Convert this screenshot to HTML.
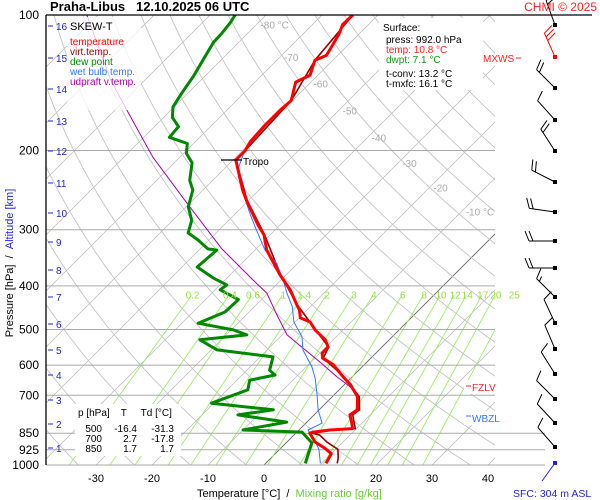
<!DOCTYPE html>
<html><head><meta charset="utf-8"><style>
html,body{margin:0;padding:0;background:#fff;}
svg{display:block;font-family:"Liberation Sans",sans-serif;}
</style></head><body>
<svg id="chart" width="600" height="500" viewBox="0 0 600 500">
<defs><clipPath id="plotclip"><rect x="46" y="15" width="449" height="450"/></clipPath></defs>
<rect x="0" y="0" width="600" height="500" fill="#ffffff"/>
<g id="grid" clip-path="url(#plotclip)"></g>
<g id="hlines"></g>
<g id="series" clip-path="url(#plotclip)"></g>
<g id="labels"></g>
<g id="barbs"></g>

<line x1="46" y1="15" x2="592" y2="15" stroke="#000" stroke-width="1.3"/>
<line x1="46" y1="15" x2="46" y2="465" stroke="#000" stroke-width="1.3"/>

<text x="50" y="11" font-size="13" font-weight="bold">Praha-Libus &#160;&#160;12.10.2025 06 UTC</text>
<text x="597" y="11" font-size="12" fill="#ff2020" text-anchor="end">CHMI © 2025</text>

<g>
<rect x="67" y="17" width="74" height="93" fill="#fff" fill-opacity="0.75"/>
<text x="70" y="30" font-size="11">SKEW-T</text>
<text x="70" y="45" font-size="10" fill="#ff0000">temperature</text>
<text x="70" y="55" font-size="10" fill="#990000">virt.temp.</text>
<text x="70" y="65" font-size="10" fill="#008800">dew point</text>
<text x="70" y="75" font-size="10" fill="#3377ff">wet bulb temp.</text>
<text x="70" y="85" font-size="10" fill="#aa00aa">udpraft v.temp.</text>
</g>

<g>
<rect x="379" y="18" width="104" height="72" fill="#fff"/>
<text x="383" y="31" font-size="10">Surface:</text>
<text x="386" y="43" font-size="10">press: 992.0 hPa</text>
<text x="386" y="53" font-size="10" fill="#ff2020">temp: 10.8 °C</text>
<text x="386" y="63" font-size="10" fill="#119911">dwpt: 7.1 °C</text>
<text x="386" y="77" font-size="10">t-conv: 13.2 °C</text>
<text x="386" y="87" font-size="10">t-mxfc: 16.1 °C</text>
</g>

<g>
<rect x="75" y="404" width="106" height="52" fill="#fff"/>
<text x="78" y="416" font-size="10">p [hPa] &#160;&#160;&#160;T &#160;&#160;&#160;&#160;Td [°C]</text>
<g font-size="10" text-anchor="end">
<text x="102" y="432">500</text><text x="137" y="432">-16.4</text><text x="174" y="432">-31.3</text>
<text x="102" y="442">700</text><text x="137" y="442">2.7</text><text x="174" y="442">-17.8</text>
<text x="102" y="452">850</text><text x="137" y="452">1.7</text><text x="174" y="452">1.7</text>
</g></g>

<g>
<line x1="221" y1="160" x2="242" y2="160" stroke="#000" stroke-width="1.2"/>
<text x="243" y="165" font-size="10">Tropo</text>
</g>
<g>
<text x="483" y="62" font-size="10" fill="#ff2020">MXWS</text>
<line x1="516" y1="58" x2="521" y2="58" stroke="#ff2020"/>
<rect x="464" y="380" width="44" height="14" fill="#fff"/>
<line x1="466" y1="386" x2="471" y2="386" stroke="#ff2020"/>
<text x="472" y="391" font-size="10" fill="#ff2020">FZLV</text>
<rect x="464" y="411" width="44" height="14" fill="#fff"/>
<line x1="466" y1="416" x2="471" y2="416" stroke="#3377ff"/>
<text x="472" y="422" font-size="10" fill="#3377ff">WBZL</text>
</g>

<text transform="translate(13,263) rotate(-90)" font-size="11" text-anchor="middle"><tspan fill="#000">Pressure [hPa] &#160;/ &#160;</tspan><tspan fill="#2222dd">Altitude [km]</tspan></text>
<text x="197" y="497" font-size="11"><tspan fill="#000">Temperature [°C] &#160;/ &#160;</tspan><tspan fill="#66cc33">Mixing ratio [g/kg]</tspan></text>
<text x="513" y="497" font-size="10.5" fill="#2222dd">SFC: 304 m ASL</text>
</svg>

<script>
// ---- data ----
const pressLevels=[100,200,300,400,500,600,700,850,925,1000];
const tempTicks=[-30,-20,-10,0,10,20,30,40];
const altKm=[16,15,14,13,12,11,10,9,8,7,6,5,4,3,2,1];
const altKmY=[26,58,89,121,151,183,213,242,270,297,324,350,375,400,424,448];
const mixRatios=[0.2,0.4,0.6,1,1.4,2,3,4,6,8,10,12,14,17,20,25];
const isoLabels=["-80 °C","-70","-60","-50","-40","-30","-20","-10 °C"];
const isoLabelT=[-80,-70,-60,-50,-40,-30,-20,-10];
const isoLabelP=[105,124,142,163,187,213,242,273];

const tempP=[100,105,110,117,123,126,136,141,155,163,176,191,200,210,221,245,258,278,293,308,333,378,408,441,453,471,481,501,527,547,564,579,599,637,663,705,754,774,807,830,836,845,850,889,918,944,992];
const tempT=[-64.5,-64.6,-63.6,-62.7,-62.0,-63.2,-61.4,-62.7,-60.2,-60.5,-60.5,-60.2,-59.5,-59.5,-57.3,-52.9,-50.4,-46.6,-43.9,-41.1,-37.9,-31.1,-26.6,-22.7,-21.3,-19.8,-17.3,-15.0,-11.4,-9.6,-9.6,-8.6,-5.5,-1.6,1.1,4.5,6.8,6.4,8.2,9.3,5.5,2.9,2.5,5.0,7.9,10.0,10.8];

const virtP=[100,126,155,200,210,258,308,378,441,501,547,579,637,705,754,774,830,836,850,858,889,923,965,992];
const virtT=[-64.5,-63.2,-60.2,-59.5,-59.5,-50.3,-41.0,-31.0,-22.6,-14.9,-9.5,-8.5,-1.4,4.8,7.2,6.9,9.8,6.1,3.0,4.6,7.1,10.4,12.0,12.8];

const dewP=[100,104,110,115,126,137,149,160,169,177,187,193,203,213,233,245,267,286,305,316,331,333,363,384,398,408,429,457,484,501,514,527,555,575,616,631,648,681,700,729,754,774,803,836,845,893,960,992];
const dewT=[-85.5,-85.0,-84.6,-84.5,-83.2,-82.0,-81.1,-80.2,-78.4,-75.7,-75.4,-71.1,-69.5,-66.8,-64.1,-61.8,-59.6,-56.6,-55.0,-52.0,-48.6,-46.8,-47.3,-42.5,-38.8,-39.1,-34.1,-34.3,-37.1,-29.6,-26.3,-33.8,-28.9,-17.7,-15.9,-14.1,-17.7,-16.3,-18.0,-20.4,-8.2,-13.6,-3.6,-10.0,0.9,4.6,6.3,7.1];

const wetP=[200,221,245,258,278,300,333,356,388,415,445,481,519,555,606,641,692,754,807,836,881,923,992];
const wetT=[-59.6,-57.4,-53.0,-50.6,-47.1,-43.4,-38.2,-33.8,-29.6,-26.6,-23.2,-20.2,-16.1,-13.6,-8.9,-6.4,-3.4,-0.2,2.9,1.6,4.6,7.0,9.8];

const parcelP=[100,139,165,207,262,331,388,415,464,514,547,592,637,670,705];
const parcelT=[-112.0,-96.3,-87.1,-74.8,-60.5,-46.1,-35.0,-30.2,-24.5,-19.1,-14.3,-8.2,-2.7,1.4,4.5];

const barbY=[25,57,88,120,151,182,212,241,268,297,323,349,374,399,423,447];
const barbDir=[340,336,315,318,327,297,278,270,270,315,335,337,328,315,317,319];
const barbSpd=[20,30,20,10,20,20,20,20,20,15,10,10,10,10,10,10];

// ---- scales ----
const NS="http://www.w3.org/2000/svg";
function yP(p){return 465-450*Math.log10(1000/p);}
function xT(T,p){return 264+5.6*T+(465-yP(p));}
function mk(parent,tag,attrs,txt){const e=document.createElementNS(NS,tag);for(const k in attrs)e.setAttribute(k,attrs[k]);if(txt!==undefined)e.textContent=txt;parent.appendChild(e);return e;}
const grid=document.getElementById('grid'),hl=document.getElementById('hlines'),ser=document.getElementById('series'),lab=document.getElementById('labels'),brb=document.getElementById('barbs');

// isotherms
for(let T=-160;T<=40;T+=10){
  const l=mk(grid,'line',{x1:xT(T,1000),y1:465,x2:xT(T,100),y2:15,stroke:T===0?'#666':'#c4c4c4','stroke-width':T===0?0.9:0.9});
  
  
}
// dry adiabats
for(let th=230;th<=500;th+=10){
  let d='';
  for(let p=1000;p>=100;p-=10){const T=th*Math.pow(p/1000,0.286)-273.15;d+=(p===1000?'M':'L')+xT(T,p).toFixed(1)+','+yP(p).toFixed(1);}
  const a=mk(grid,'path',{d:d,fill:'none',stroke:'#c4c4c4','stroke-width':0.9});
  
  
}
// mixing ratio lines
function tdW(w,p){const e=w*p/(622+w);const L=Math.log(e/6.112);return 243.5*L/(17.67-L);}
for(let i=0;i<mixRatios.length;i++){
  const w=mixRatios[i];
  const m=mk(grid,'line',{x1:xT(tdW(w,1000),1000),y1:465,x2:xT(tdW(w,420),420),y2:yP(420),stroke:'#99ee66','stroke-width':0.9});
  
  
  const t=mk(lab,'text',{x:xT(tdW(w,420),420)+1,y:yP(420)+3,'font-size':10,fill:'#99dd44','text-anchor':'middle'},String(w));
  
  
}
// isotherm labels
for(let i=0;i<isoLabels.length;i++){
  const t=mk(lab,'text',{x:xT(isoLabelT[i],isoLabelP[i])+4,y:yP(isoLabelP[i])+4,'font-size':10,fill:'#aaaaaa'},isoLabels[i]);
  
  
}
// pressure gridlines + labels
for(const p of pressLevels){
  if(p>100){
    const l=mk(hl,'line',{x1:46,y1:yP(p),x2:p>=850?545:495,y2:yP(p),stroke:'#aaaaaa','stroke-width':1});
    
    
  }
  const t=mk(lab,'text',{x:39,y:yP(p)+4,'font-size':12,'text-anchor':'end'},String(p));
  
  
}
// temperature ticks
for(const T of tempTicks){
  const t=mk(lab,'text',{x:xT(T,1000),y:482,'font-size':11,'text-anchor':'middle'},String(T));
  
  
}
// altitude ticks
for(let i=0;i<altKm.length;i++){
  const l=mk(lab,'line',{x1:48,y1:altKmY[i],x2:53,y2:altKmY[i],stroke:'#2222dd','stroke-width':1});
  
  
  const t=mk(lab,'text',{x:56,y:altKmY[i]+4,'font-size':10,fill:'#2222dd'},String(altKm[i]));
  
  
}
// series
function path(P,T){return P.map((p,i)=>(i?'L':'M')+xT(T[i],p).toFixed(1)+','+yP(p).toFixed(1)).join('');}
const s1=mk(ser,'path',{d:path(parcelP,parcelT),fill:'none',stroke:'#aa00aa','stroke-width':1});


const s2=mk(ser,'path',{d:path(virtP,virtT),fill:'none',stroke:'#990000','stroke-width':1.6});


const s3=mk(ser,'path',{d:path(wetP,wetT),fill:'none',stroke:'#3377ff','stroke-width':1});


const s4=mk(ser,'path',{d:path(dewP,dewT),fill:'none',stroke:'#008800','stroke-width':3,'stroke-linejoin':'round'});


const s5=mk(ser,'path',{d:path(tempP,tempT),fill:'none',stroke:'#ff0000','stroke-width':3,'stroke-linejoin':'round'});



// wind barbs
for(let i=0;i<barbY.length;i++){
  const col=i===1?'#ff0000':'#000';
  const x0=555,y0=barbY[i],a=barbDir[i]*Math.PI/180,L=26;
  const ux=Math.sin(a),uy=-Math.cos(a);
  const ex=x0+L*ux,ey=y0+L*uy;
  const px=-uy,py=ux;
  let d='M'+x0+','+y0+'L'+ex.toFixed(1)+','+ey.toFixed(1);
  let s=barbSpd[i],k=0;
  while(s>=10){const bx=ex-k*4*ux,by=ey-k*4*uy;d+='M'+bx.toFixed(1)+','+by.toFixed(1)+'L'+(bx+px*10+ux*4).toFixed(1)+','+(by+py*10+uy*4).toFixed(1);s-=10;k++;}
  if(s>=5){const bx=ex-k*4*ux,by=ey-k*4*uy;d+='M'+bx.toFixed(1)+','+by.toFixed(1)+'L'+(bx+px*5+ux*2).toFixed(1)+','+(by+py*5+uy*2).toFixed(1);}
  const b=mk(brb,'path',{d:d,fill:'none',stroke:col,'stroke-width':1});
  
  
  const dot=mk(brb,'rect',{x:x0-2,y:y0-2,width:4,height:4,fill:col});
  
  
}
const sb=mk(brb,'path',{d:'M555,463L542,481',stroke:'#2222dd','stroke-width':1,fill:'none'});


const sd=mk(brb,'rect',{x:553,y:461,width:4,height:4,fill:'#2222dd'});


</script>
</body></html>
